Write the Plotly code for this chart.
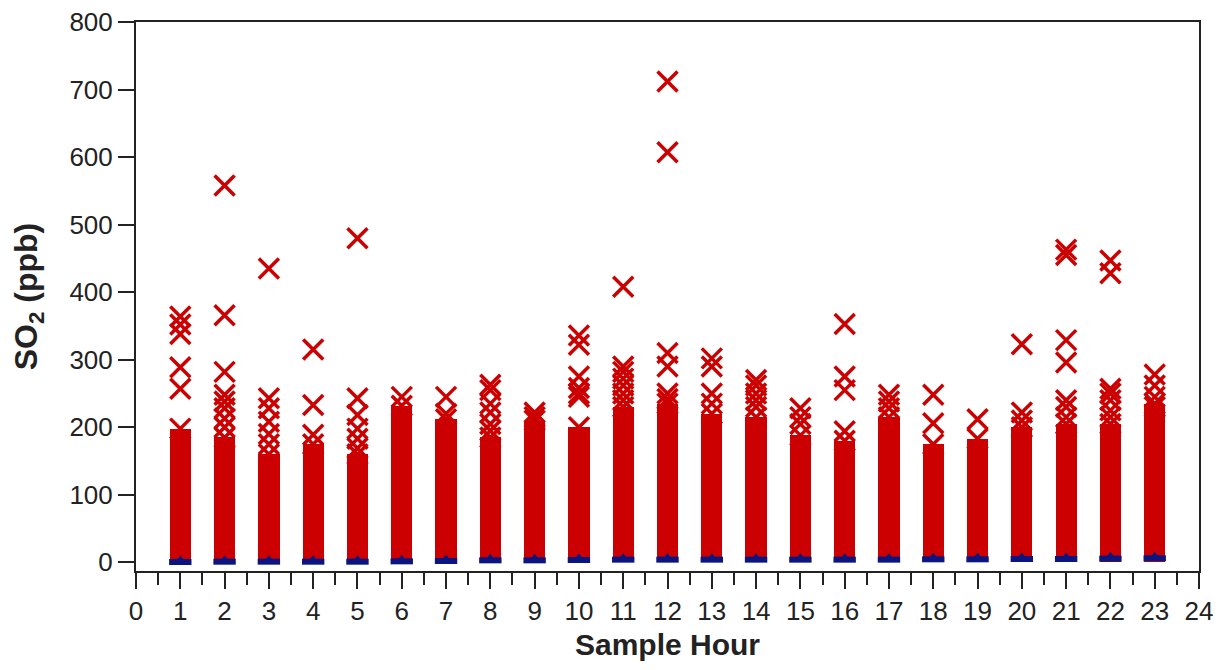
import plotly.graph_objects as go

hours = list(range(1, 24))

# top of the dense (solid) block of SO2 readings for each hour, ppb
bulk_top = [198, 185, 160, 175, 160, 232, 212, 185, 210, 200, 230, 235,
            220, 215, 188, 180, 215, 175, 183, 200, 205, 205, 235]

# individual readings above the dense block, ppb
outliers = [
    [257, 289, 338, 352, 364],
    [200, 213, 228, 238, 248, 282, 366, 558],
    [175, 190, 208, 228, 243, 435],
    [189, 233, 315],
    [169, 183, 198, 218, 243, 480],
    [245],
    [220, 245],
    [195, 205, 222, 235, 255, 263],
    [215, 222],
    [245, 250, 258, 275, 322, 336],
    [240, 250, 262, 272, 282, 290, 408],
    [242, 250, 290, 310, 607, 712],
    [235, 250, 290, 302],
    [230, 240, 250, 262, 270],
    [205, 215, 228],
    [194, 255, 275, 353],
    [228, 238, 248],
    [206, 248],
    [212],
    [210, 222, 323],
    [215, 230, 240, 296, 329, 455, 463],
    [215, 225, 240, 250, 257, 428, 447],
    [230, 245, 262, 278],
]

# hourly mean SO2, ppb
hour_mean = [0.5, 1, 1, 1, 1, 1.5, 2, 3, 3, 3.5, 4, 4, 4, 4, 4, 4, 4,
             4.5, 4.5, 5, 5, 5.5, 6]

RED = "#cc0000"
BLUE = "#0b1580"
FONT = "Arial, Liberation Sans, sans-serif"

xs, ys = [], []
for h, top, outs in zip(hours, bulk_top, outliers):
    for v in [top] + outs:
        xs.append(h)
        ys.append(v)

fig = go.Figure()
fig.add_trace(go.Bar(x=hours, y=bulk_top, base=0, width=0.48,
                     marker=dict(color=RED, line=dict(width=0)),
                     showlegend=False, hoverinfo="skip"))
fig.add_trace(go.Scatter(x=xs, y=ys, mode="markers", showlegend=False,
                         marker=dict(symbol="x-thin", size=20, color=RED,
                                     line=dict(color=RED, width=3.5))))
fig.add_trace(go.Scatter(x=hours, y=hour_mean, mode="markers", showlegend=False,
                         marker=dict(symbol="line-ew", size=16, color=BLUE,
                                     line=dict(color=BLUE, width=6))))
fig.add_trace(go.Scatter(x=hours, y=[m + 3 for m in hour_mean], mode="markers",
                         showlegend=False,
                         marker=dict(symbol="triangle-up", size=9, color=BLUE,
                                     line=dict(width=0))))

axis_common = dict(showline=True, linecolor="#222", linewidth=2, mirror=True,
                   ticks="outside", tickcolor="#222", tickwidth=2,
                   showgrid=False, zeroline=False, automargin=False,
                   ticklabeloverflow="allow",
                   tickfont=dict(family=FONT, size=26, color="#222"))

fig.update_xaxes(range=[0, 24], tickmode="linear", tick0=0, dtick=1, ticklen=16,
                 minor=dict(ticks="outside", dtick=0.5, tick0=0, ticklen=12,
                            tickwidth=2, tickcolor="#222"),
                 **axis_common)
fig.update_yaxes(range=[-12.8, 800], tickmode="linear", tick0=0, dtick=100, ticklen=16,
                 title=dict(text="<b>SO<sub>2</sub> (ppb)</b>", standoff=22,
                            font=dict(family=FONT, size=32, color="#222")),
                 **axis_common)

fig.add_annotation(text="<b>Sample Hour</b>", xref="paper", yref="paper",
                   x=0.5, y=-0.133, xanchor="center", yanchor="middle",
                   showarrow=False, font=dict(family=FONT, size=30, color="#222"))

fig.update_layout(width=1206, height=654, plot_bgcolor="white", paper_bgcolor="white",
                  margin=dict(l=128, r=15, t=14, b=91), barmode="overlay",
                  bargap=0)

fig.write_html("out.html")
